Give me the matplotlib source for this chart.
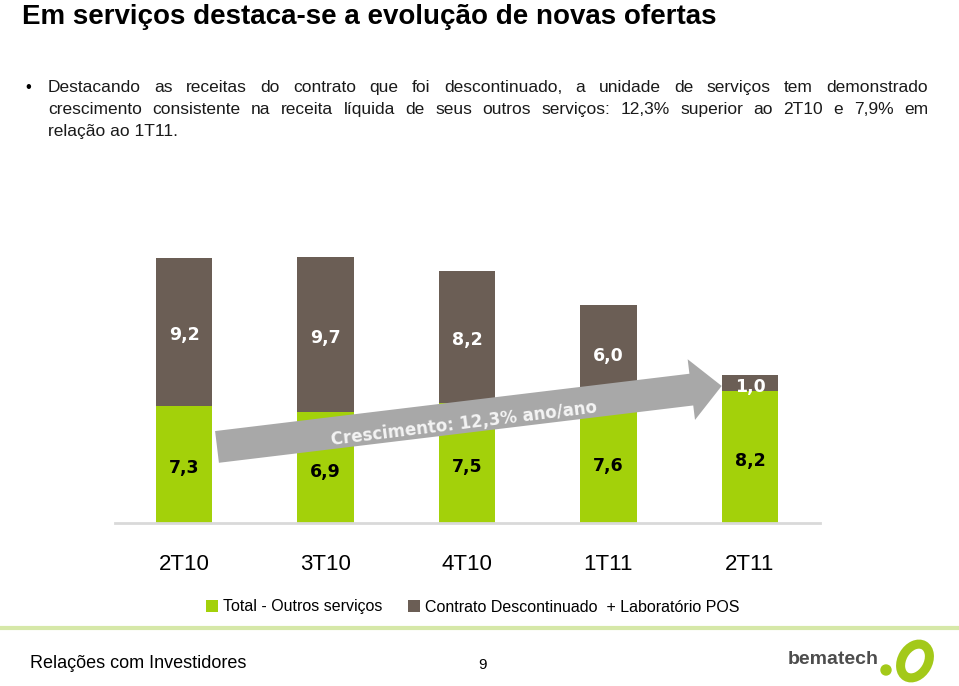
import matplotlib
matplotlib.use("Agg")
import matplotlib.pyplot as plt
from matplotlib.patches import FancyArrowPatch, Ellipse
from matplotlib.lines import Line2D

# dados
trimestres = ["2T10", "3T10", "4T10", "1T11", "2T11"]
outros_servicos = [7.3, 6.9, 7.5, 7.6, 8.2]
contrato_desc = [9.2, 9.7, 8.2, 6.0, 1.0]
rotulos_outros = ["7,3", "6,9", "7,5", "7,6", "8,2"]
rotulos_contrato = ["9,2", "9,7", "8,2", "6,0", "1,0"]

titulo = "Em serviços destaca-se a evolução de novas ofertas"
linhas_texto = [
    "Destacando as receitas do contrato que foi descontinuado, a unidade de serviços tem demonstrado",
    "crescimento consistente na receita líquida de seus outros serviços: 12,3% superior ao 2T10 e 7,9% em",
    "relação ao 1T11.",
]

verde = "#a3d10a"
marrom = "#6b5e55"
W, H = 959, 686

fig = plt.figure(figsize=(W / 100, H / 100), dpi=100)
fig.patch.set_facecolor("white")

# titulo
fig.text(22 / W, 1 - 24 / H, titulo, fontsize=20, fontweight="bold",
         family="Liberation Sans", va="baseline", ha="left", color="black")

# texto com marcador, justificado
renderer = fig.canvas.get_renderer()
fig.text(25 / W, 1 - 92 / H, "•", fontsize=12, family="Liberation Sans", va="baseline")
x0, x1 = 48, 928
for i, linha in enumerate(linhas_texto):
    y = 1 - (92 + 22 * i) / H
    if i == len(linhas_texto) - 1:
        fig.text(x0 / W, y, linha, fontsize=12.5, family="Liberation Sans",
                 va="baseline", color="#1a1a1a")
        continue
    palavras = linha.split(" ")
    objs = [fig.text(0, y, p, fontsize=12.5, family="Liberation Sans",
                     va="baseline", color="#1a1a1a") for p in palavras]
    larguras = [o.get_window_extent(renderer).width for o in objs]
    gap = (x1 - x0 - sum(larguras)) / (len(palavras) - 1)
    x = x0
    for o, w in zip(objs, larguras):
        o.set_x(x / W)
        x += w + gap

# grafico
ax = fig.add_axes([115 / W, (H - 523) / H, 705 / W, 283 / H])
pos = list(range(len(trimestres)))
b1 = ax.bar(pos, outros_servicos, width=0.40, color=verde, zorder=2,
            label="Total - Outros serviços")
b2 = ax.bar(pos, contrato_desc, width=0.40, bottom=outros_servicos, color=marrom,
            zorder=2, label="Contrato Descontinuado  + Laboratório POS")
ax.set_xlim(-0.488, 4.495)
ax.set_ylim(0, 283 / 16.05)

for p, v, c, lv, lc in zip(pos, outros_servicos, contrato_desc, rotulos_outros, rotulos_contrato):
    ax.text(p, v / 2 - 0.25, lv, ha="center", va="center", fontsize=12.5,
            fontweight="bold", color="black", zorder=5)
    ax.text(p, v + c / 2 - 0.2, lc, ha="center", va="center", fontsize=12.5,
            fontweight="bold", color="white", zorder=5)

for s in ["top", "right", "left"]:
    ax.spines[s].set_visible(False)
ax.spines["bottom"].set_color("#d9d9d9")
ax.spines["bottom"].set_linewidth(2)
ax.set_yticks([])
ax.set_xticks(pos)
ax.set_xticklabels(trimestres, fontsize=16, family="Liberation Sans")
ax.tick_params(axis="x", length=0, pad=22.5)

# seta de crescimento
seta = FancyArrowPatch((0.233, 4.74), (3.80, 8.54), mutation_scale=1,
                       arrowstyle="simple,head_length=22,head_width=44,tail_width=23",
                       shrinkA=0, shrinkB=0, color="#a8a8a8", lw=0, zorder=3)
ax.add_patch(seta)
ax.text(1.98, 6.2, "Crescimento: 12,3% ano/ano", rotation=7, ha="center",
        va="center", fontsize=12, fontweight="bold", color="#f4f4f4",
        rotation_mode="anchor", zorder=4)

fig.legend(handles=[b1, b2], loc="center", bbox_to_anchor=(0.493, 1 - 607 / H),
           ncol=2, frameon=False, handlelength=0.75, handleheight=0.75,
           handletextpad=0.3, columnspacing=1.6,
           prop={"family": "Liberation Sans", "size": 11.5})

# rodape
fig.add_artist(Line2D([0, 1], [1 - 628 / H, 1 - 628 / H], color="#d6e8a8", lw=3))
fig.text(30 / W, 1 - 663 / H, "Relações com Investidores", fontsize=13,
         family="Liberation Sans", va="center")
fig.text(478 / W, 1 - 665 / H, "9", fontsize=11, family="Liberation Sans", va="center")
fig.text(788 / W, 1 - 659 / H, "bematech", fontsize=14, fontweight="bold",
         family="Liberation Sans", va="center", color="#4d4d4d")
fig.add_artist(Ellipse((9.15, (H - 661) / 100), 0.36, 0.26, angle=60,
                       fill=False, ec="#a3c919", lw=6.5,
                       transform=fig.dpi_scale_trans))
fig.add_artist(Ellipse((8.86, (H - 670) / 100), 0.10, 0.10, color="#a3c919",
                       transform=fig.dpi_scale_trans))

fig.savefig("out.png", dpi=100)
